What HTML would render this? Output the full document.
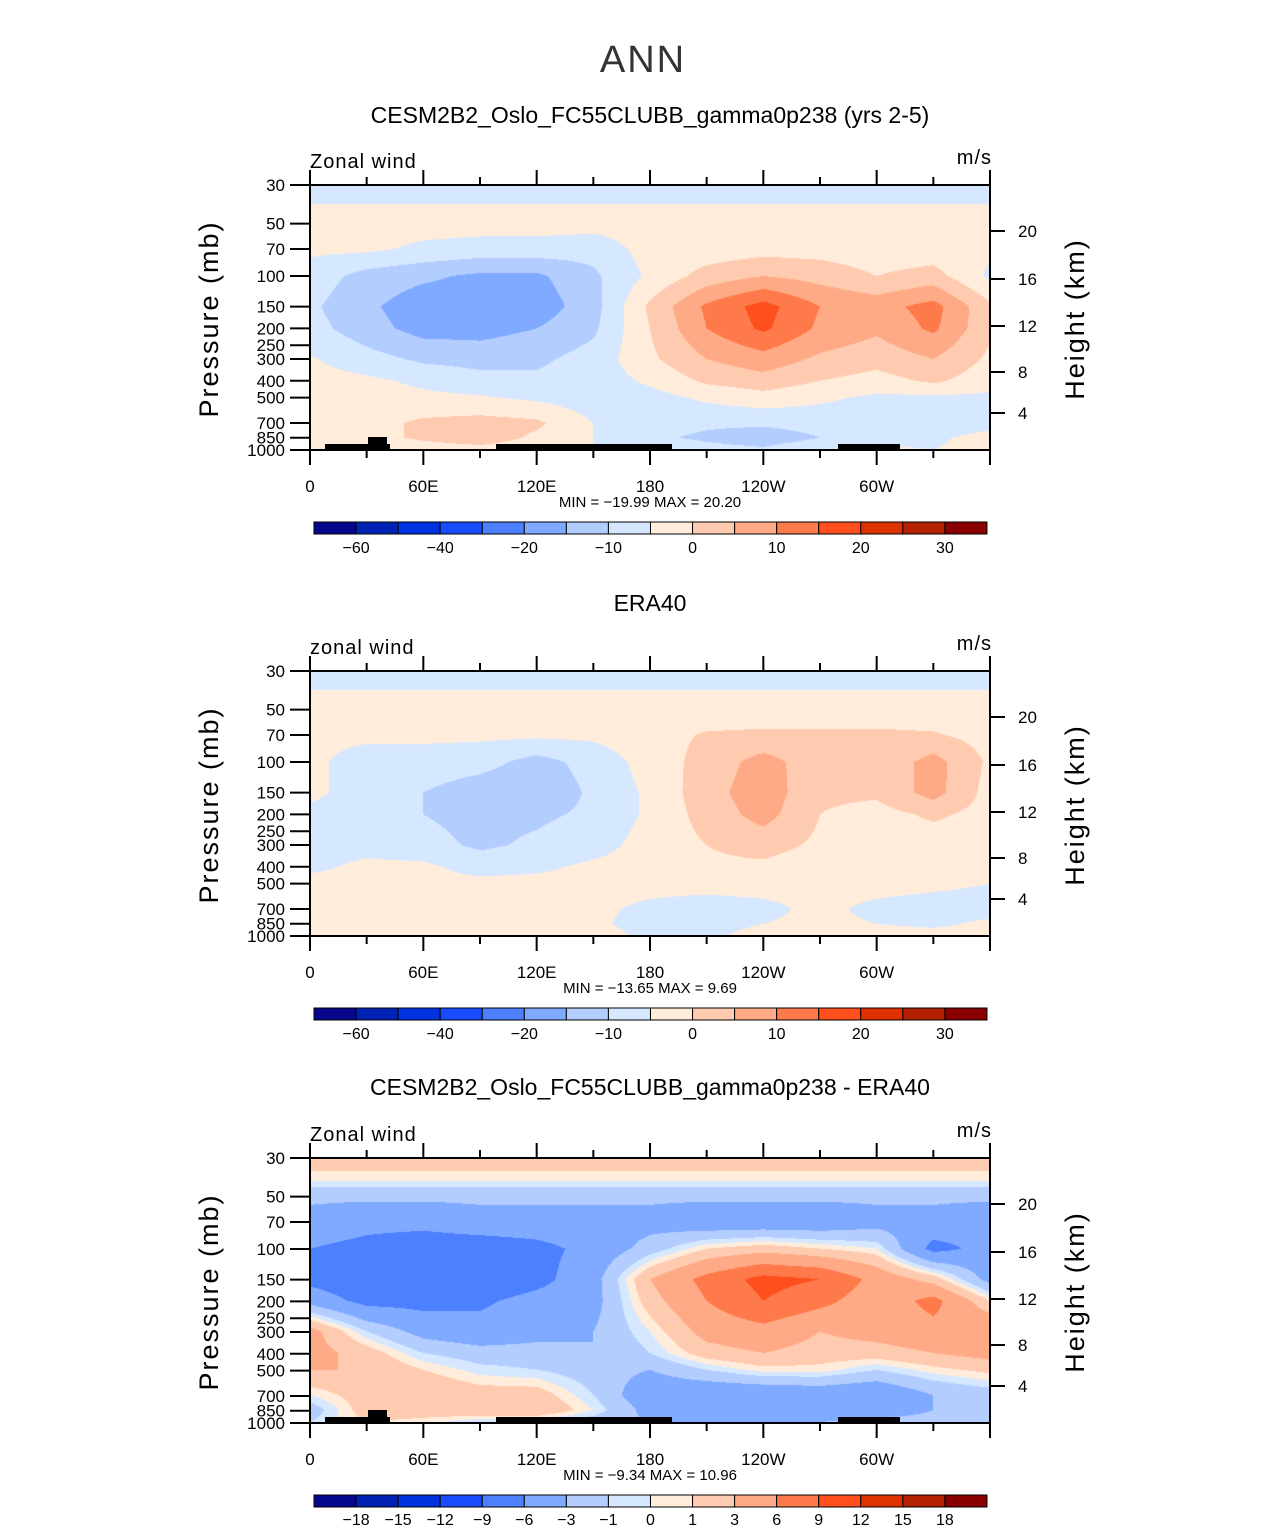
<!DOCTYPE html>
<html><head><meta charset="utf-8">
<style>
body{margin:0;background:#fff;width:1285px;height:1531px;position:relative;overflow:hidden;font-family:"Liberation Sans",sans-serif;}
canvas{position:absolute;}
svg{position:absolute;left:0;top:0;}
</style></head>
<body>
<canvas id="c0" width="680" height="265" style="left:310px;top:185px"></canvas>
<canvas id="c1" width="680" height="265" style="left:310px;top:671px"></canvas>
<canvas id="c2" width="680" height="264" style="left:310px;top:1158px"></canvas>
<svg id="s" width="1285" height="1531"></svg>
<script>
const lons=[0,30,60,90,120,150,180,210,240,270,300,330,360];
const presA=[30,50,70,100,150,200,300,400,500,700,850,1000];
const presB=[30,40,50,70,100,150,200,300,400,500,700,850,1000];
const model=[
[-2,-2,-2,-2,-2,-2,-2,-2,-2,-2,-2,-2,-2],
[2,2,2,2,2,2,2,2,2,2,2,2,2],
[1,1,-1,-2,-2,-3,2,2,3,3,2,2,1],
[-2,-7,-9,-11,-11,-6,1,7,10,8,5,7,-1],
[-4,-9,-13,-13,-13,-7,6,16,22,15,13,17,6],
[-3,-8,-12,-12,-10,-6,5,15,21,14,11,16,6],
[0.5,-3,-6,-7,-6,-3,4,10,13,9,7,10,4],
[2,1,-1,-3,-4,-3,1,6,8,5,3,6,2],
[2,2,1,0.5,-1,-3,-2,1,3,1,-1,-1,-1],
[1,3,6,7,6,0,-3,-4,-4,-3,-3,-4,-2],
[2,3,6,8,4,0,-4,-6,-8,-5,-2,-1,2],
[2,1,2,3,2,0,-1,-3,-4,-1,1,0,2]];
const era=[
[-2,-2,-2,-2,-2,-2,-2,-2,-2,-2,-2,-2,-2],
[2,2,2,2,2,2,2,2,2,2,2,2,2],
[1,1,1,1,1,1,3,5.5,6,6,6,5.5,3],
[1,-2,-2,-3,-7,-3,2,7,12,7,6,12,4],
[1,-2,-5,-8,-9,-4,1,8,13,6,6,12,3],
[-1,-3,-5,-7,-6,-4,1,7,12,5,3,6,3],
[-2,-1.5,-3,-6,-4,-2,2,5,7,4,1,2,2],
[-1,1,1,-2,-1,1,2,4,4,2,1,1,1],
[1.5,1.5,1.5,1.5,1.5,1.5,1.5,1.5,1.5,1.5,1.5,1,0],
[1,2,4,5,3,1,-1,-2,-1,1,-1,-2,-2],
[1,3,5,5,5,1,-2,-2,0,1,0,-1,1],
[2,2,2,2,2,2,-1,-1,2,2,2,2,2]];
const diff=[
[2,2,2,2,2,2,2,2,2,2,2,2,2],
[0.3,0.3,0.3,0.3,0.3,0.3,0.3,0.3,0.3,0.3,0.3,0.3,0.3],
[-2.5,-2.5,-2.5,-2.5,-2.5,-2.5,-2.5,-2.5,-2.5,-2.5,-2.5,-2.5,-2.5],
[-4,-5,-5,-4,-4,-4,-4,-5,-5,-5,-4,-4,-5],
[-6,-7,-8,-8,-7,-5,-2,1,2,1,0,-7,-5],
[-7,-8.5,-8.5,-8.5,-7,-4,3,7,10,9,5,2,-4],
[-4,-7,-7,-6.5,-5,-4,2,6,9,7,4,7,1],
[4,-1,-4,-5,-4,-3,0,4,5,3,4,5,6],
[4,2,-1,-2,-2,-3,-1,2,3,2,2,3,4],
[3,3,1,-0.5,-1,-2,-3,-1,0.5,0.5,-1,0.5,1.5],
[0,2,3,2,2,-1,-5,-5.5,-5.5,-5,-5.5,-3,-2],
[-2,2,2,3,3,0,-4,-5.5,-5.5,-5.5,-5,-3,-2],
[-1,1,0.5,-1,-1,-2,-3,-3,-3,-3,-2,-2,-1]];
const levA=[-55,-45,-35,-25,-15,-10,-5,0,5,10,15,20,25,30,35];
const levB=[-18,-15,-12,-9,-6,-3,-1,0,1,3,6,9,12,15,18];
const labA=["-60","-40","-20","-10","0","10","20","30"];
const labAidx=[0,2,4,6,8,10,12,14];
const labB=["-18","-15","-12","-9","-6","-3","-1","0","1","3","6","9","12","15","18"];
const colors=["#07078c","#0022b4","#0033e0","#1a4cff","#4c80ff","#80aaff","#b3cdff","#d6e8ff","#ffecdb","#ffcbb0","#ffaa86","#ff7a4a","#ff4f1c","#e03200","#b52000","#880000"];
const xlabs=["0","60E","120E","180","120W","60W"];
const plabs=[30,50,70,100,150,200,250,300,400,500,700,850,1000];
const hkm=[4,8,12,16,20];
const hoff=[228,187,141,94,46];
const NS="http://www.w3.org/2000/svg";
const svg=document.getElementById('s');
const X0=310,W=680,H=265;
function xs(lon){return X0+lon/360*W;}
function ys(p,top){return top+H*Math.log(p/30)/Math.log(1000/30);}
function mk(tag,attrs,name,txt){const e=document.createElementNS(NS,tag);for(const k in attrs)e.setAttribute(k,attrs[k]);


if(txt!==undefined)e.textContent=txt;svg.appendChild(e);return e;}
function hexrgb(h){return [parseInt(h.substr(1,2),16),parseInt(h.substr(3,2),16),parseInt(h.substr(5,2),16)];}
const rgb=colors.map(hexrgb);
function drawField(id,data,pres,lev){
  const cv=document.getElementById(id);const ctx=cv.getContext('2d');
  const w=cv.width,h=cv.height;const img=ctx.createImageData(w,h);
  const lp=pres.map(p=>Math.log(p));const l0=Math.log(30),l1=Math.log(1000);
  for(let j=0;j<h;j++){
    const lg=l0+(j+0.5)/h*(l1-l0);
    let r=0;while(r<pres.length-2&&lp[r+1]<lg)r++;
    const ty=Math.min(1,Math.max(0,(lg-lp[r])/(lp[r+1]-lp[r])));
    for(let i=0;i<w;i++){
      const lon=(i+0.5)/w*360;let c=Math.min(11,Math.floor(lon/30));const tx=(lon-lons[c])/30;
      const v=(data[r][c]*(1-tx)+data[r][c+1]*tx)*(1-ty)+(data[r+1][c]*(1-tx)+data[r+1][c+1]*tx)*ty;
      let k=0;while(k<lev.length&&v>=lev[k])k++;
      const col=rgb[k];const o=(j*w+i)*4;img.data[o]=col[0];img.data[o+1]=col[1];img.data[o+2]=col[2];img.data[o+3]=255;
    }
  }
  ctx.putImageData(img,0,0);
}
drawField('c0',model,presA,levA);
drawField('c1',era,presA,levA);
drawField('c2',diff,presB,levB);

mk('text',{x:643,y:72,'font-size':38,'text-anchor':'middle',fill:'#333','font-weight':'300','letter-spacing':'2'},'main-title','ANN');
const titles=["CESM2B2_Oslo_FC55CLUBB_gamma0p238 (yrs 2-5)","ERA40","CESM2B2_Oslo_FC55CLUBB_gamma0p238 - ERA40"];
const ttly=[123,611,1095];
const tops=[185,671,1158];
const vlabel=["Zonal wind","zonal wind","Zonal wind"];
const minmax=["MIN = \u221219.99   MAX =   20.20","MIN = \u221213.65   MAX =    9.69","MIN =   \u22129.34   MAX =   10.96"];
const topo=[true,false,true];
tops.forEach((top,pi)=>{
  mk('text',{x:650,y:ttly[pi],'font-size':23,'text-anchor':'middle',fill:'#000'},'panel-title',titles[pi]);
  mk('text',{x:310,y:top-17,'font-size':20,fill:'#000','letter-spacing':'1'},'variable-label',vlabel[pi]);
  mk('text',{x:992,y:top-21,'font-size':20,'text-anchor':'end',fill:'#000','letter-spacing':'1'},'units-label','m/s');
  if(topo[pi]){
    const b=top+H;
    mk('rect',{x:325,y:b-6,width:65,height:6,fill:'#000'},'topography-africa');
    mk('rect',{x:368,y:b-13,width:19,height:13,fill:'#000'},'topography-east-africa');
    mk('rect',{x:496,y:b-6,width:176,height:6,fill:'#000'},'topography-asia');
    mk('rect',{x:838,y:b-6,width:62,height:6,fill:'#000'},'topography-andes');
  }
  mk('rect',{x:310,y:top,width:680,height:H,fill:'none',stroke:'#000','stroke-width':2},'plot-frame');
  for(let lon=0;lon<=360;lon+=30){
    const x=xs(lon);const maj=lon%60===0;
    mk('line',{x1:x,x2:x,y1:top,y2:top-(maj?15:8),stroke:'#000','stroke-width':2},'top-tick');
    mk('line',{x1:x,x2:x,y1:top+H,y2:top+H+(maj?15:8),stroke:'#000','stroke-width':2},'bottom-tick');
  }
  xlabs.forEach((l,i)=>mk('text',{x:xs(i*60),y:top+H+42,'font-size':17,'text-anchor':'middle',fill:'#000'},'x-tick-label',l));
  plabs.forEach(p=>{const y=ys(p,top);
    mk('line',{x1:290,x2:310,y1:y,y2:y,stroke:'#000','stroke-width':2},'y-tick');
    mk('text',{x:285,y:y+6,'font-size':17,'text-anchor':'end',fill:'#000'},'y-tick-label',String(p));});
  hkm.forEach((h,i)=>{const y=top+hoff[i];
    mk('line',{x1:990,x2:1005,y1:y,y2:y,stroke:'#000','stroke-width':2},'height-tick');
    mk('text',{x:1018,y:y+6,'font-size':17,fill:'#000'},'height-tick-label',String(h));});
  mk('text',{x:0,y:0,'font-size':27,'text-anchor':'middle',fill:'#000','letter-spacing':'2',transform:`translate(218,${top+134}) rotate(-90)`},'y-axis-title','Pressure (mb)');
  mk('text',{x:0,y:0,'font-size':27,'text-anchor':'middle',fill:'#000','letter-spacing':'2',transform:`translate(1084,${top+134}) rotate(-90)`},'right-axis-title','Height (km)');
  mk('text',{x:650,y:top+H+57,'font-size':15,'text-anchor':'middle',fill:'#000','xml:space':'preserve'},'min-max-label',minmax[pi]);
  const cy=top+337;
  colors.forEach((c,i)=>mk('rect',{x:314+i*42.06,y:cy,width:42.06,height:12,fill:c,stroke:'#000','stroke-width':1},'colorbar-box'));
  if(pi<2){labA.forEach((l,i)=>mk('text',{x:314+(labAidx[i]+1)*42.06,y:cy+31,'font-size':16,'text-anchor':'middle',fill:'#000'},'colorbar-label',l.replace('-','\u2212')));}
  else{labB.forEach((l,i)=>mk('text',{x:314+(i+1)*42.06,y:cy+30,'font-size':16,'text-anchor':'middle',fill:'#000'},'colorbar-label',l.replace('-','\u2212')));}
});
</script>
</body></html>
